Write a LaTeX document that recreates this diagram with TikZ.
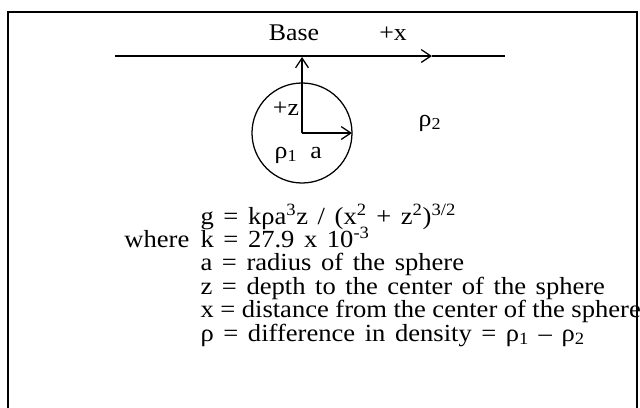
\documentclass[tikz,border=0pt]{standalone}
\usepackage{fontspec}
\setmainfont{Liberation Serif}[FakeStretch=1.08]
\usetikzlibrary{arrows.meta}
\newcommand{\widesp}{\spaceskip=6.8pt\relax}
\newcommand{\tightsp}{\spaceskip=4.6pt\relax}
\tikzset{
  txt/.style={anchor=base west, inner sep=0pt, font=\fontsize{17.5}{18}\selectfont\widesp},
  lbl/.style={anchor=base, inner sep=0pt, font=\fontsize{17}{18}\selectfont},
  arr/.style={-{Straight Barb[length=2.4mm,width=3.2mm]}},
}
\begin{document}
\begin{tikzpicture}[x=0.025cm,y=-0.025cm,line width=0.9pt]
  \useasboundingbox (0,0) rectangle (640,408);
  % frame, open at the bottom
  \draw[line width=1.3pt] (8,412) -- (8,12) -- (637,12) -- (637,412);

  % base line with the +x arrow
  \coordinate (bl) at (115,56);
  \coordinate (bm) at (432,56);
  \coordinate (br) at (505,56);
  \draw[arr] (bl) -- (bm);
  \draw (bm) -- (br);
  \node[lbl] (base) at (294,40) {Base};
  \node[lbl] (px) at (393,40) {+x};

  % sphere
  \coordinate (c) at (302,133);
  \coordinate (top) at (302,57);
  \coordinate (rim) at (352,133);
  \draw (c) circle[radius=50];
  \draw[arr] (c) -- (top);
  \draw[arr] (c) -- (rim);
  \node[lbl] (pz) at (286,115) {+z};
  \node[lbl] (r1) at (286,158) {ρ\textsubscript{1}};
  \node[lbl] (ra) at (316,158) {a};
  \node[lbl] (r2) at (430,126) {ρ\textsubscript{2}};

  % formula and legend
  \node[txt] (g) at (200,224) {g = kρa\textsuperscript{3}z / (x\textsuperscript{2} + z\textsuperscript{2})\textsuperscript{3/2}};
  \node[txt,anchor=base east] (where) at (190,247.4) {where};
  \node[txt] (k) at (200,247.4) {k = 27.9 x 10\textsuperscript{-3}};
  \node[txt] (la) at (200,270.8) {a = radius of the sphere};
  \node[txt] (lz) at (200,294.2) {z = depth to the center of the sphere};
  \node[txt,font=\fontsize{17.5}{18}\selectfont\tightsp] (lx) at (200,317.6) {x = distance from the center of the sphere};
  \node[txt] (lr) at (200,341) {ρ = difference in density = ρ\textsubscript{1} – ρ\textsubscript{2}};
\end{tikzpicture}
\end{document}
